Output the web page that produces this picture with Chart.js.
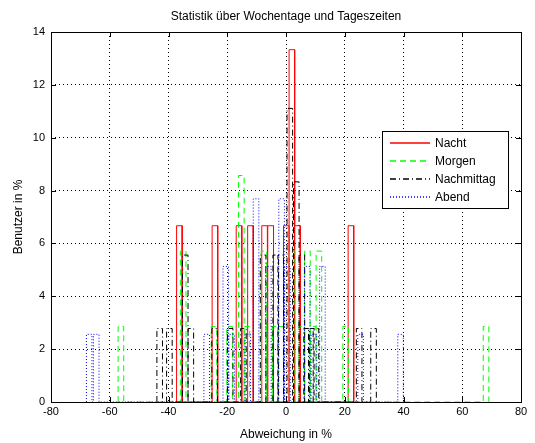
<!DOCTYPE html>
<html>
<head>
<meta charset="utf-8">
<script src="https://cdn.jsdelivr.net/npm/chart.js@4"></script>
<style>
  html, body { margin: 0; padding: 0; background: #fff; }
  #wrap { width: 535px; height: 443px; }
</style>
</head>
<body>
<div id="wrap"><canvas id="tageszeitChart" width="535" height="443"></canvas></div>
<script>
// Histogramm: Abweichung in % (Bin-Mitten) und Anteil der Benutzer in %
const seriesNames = ['Nacht', 'Morgen', 'Nachmittag', 'Abend'];

const nachtBins   = [-36.3, -24.2, -16.0, -12.1, -7.3, -5.2, 0.1, 2.0, 3.9, 22.1];
const nachtValues = [6.67, 6.67, 6.67, 6.67, 6.67, 6.67, 6.67, 13.33, 6.67, 6.67];

const morgenBins   = [-56.2, -35.0, -24.5, -19.2, -15.2, -13.3, -7.5, -5.6, -3.7, -1.8, 2.1, 5.4, 7.3, 9.2, 11.2, 20.3, 68.1];
const morgenValues = [2.86, 5.71, 2.86, 2.86, 8.57, 2.86, 5.71, 2.86, 2.86, 2.86, 5.71, 2.86, 5.71, 2.86, 5.71, 2.86, 2.86];

const nachmittagBins   = [-43.0, -39.7, -34.3, -32.4, -24.3, -19.0, -14.5, -7.8, -3.5, -1.8, 1.3, 3.5, 5.4, 7.0, 8.6, 10.2, 24.9, 29.8];
const nachmittagValues = [2.78, 2.78, 5.56, 2.78, 2.78, 2.78, 2.78, 5.56, 5.56, 5.56, 11.11, 8.33, 5.56, 2.78, 2.78, 2.78, 2.78, 2.78];

const abendBins   = [-67.0, -64.6, -27.0, -20.5, -18.5, -13.0, -10.2, -6.0, -1.5, 0.5, 7.2, 9.5, 12.4, 25.4, 39.0];
const abendValues = [2.56, 2.56, 2.56, 5.13, 2.56, 2.56, 7.69, 5.13, 7.69, 5.13, 5.13, 2.56, 5.13, 2.56, 2.56];

const binWidth = 1.9;

const seriesColors = ['#ff0000', '#00ff00', '#000000', '#0000ff'];
const seriesDashes = [[], [6, 4], [6, 3, 1, 3], [1, 2]];

// Umriss der Balken als Linienzug (wie stairs/hist in MATLAB)
function outline(centers, values) {
    const pts = [];
    const idx = centers.map((c, i) => i).sort((a, b) => centers[a] - centers[b]);
    idx.forEach(function(i) {
        const l = centers[i] - binWidth / 2;
        const r = centers[i] + binWidth / 2;
        pts.push({x: l, y: 0}, {x: l, y: values[i]}, {x: r, y: values[i]}, {x: r, y: 0});
    });
    return pts;
}

const FONT = 'Liberation Sans, Arial, Helvetica, sans-serif';

// Rahmen, nach innen zeigende Ticks, Titel und Legende
const matlabAxes = {
    id: 'matlabAxes',
    afterDraw(chart) {
        const ctx = chart.ctx;
        const a = chart.chartArea;
        const xs = chart.scales.x, ys = chart.scales.y;
        ctx.save();
        ctx.strokeStyle = '#000';
        ctx.lineWidth = 1;
        ctx.setLineDash([]);
        ctx.strokeRect(Math.round(a.left) + 0.5, Math.round(a.top) + 0.5,
            Math.round(a.right - a.left), Math.round(a.bottom - a.top));
        ctx.beginPath();
        xs.ticks.forEach(function(t) {
            const px = Math.round(xs.getPixelForValue(t.value)) + 0.5;
            ctx.moveTo(px, a.bottom); ctx.lineTo(px, a.bottom - 5);
            ctx.moveTo(px, a.top); ctx.lineTo(px, a.top + 5);
        });
        ys.ticks.forEach(function(t) {
            const py = Math.round(ys.getPixelForValue(t.value)) + 0.5;
            ctx.moveTo(a.left, py); ctx.lineTo(a.left + 5, py);
            ctx.moveTo(a.right, py); ctx.lineTo(a.right - 5, py);
        });
        ctx.stroke();

        // Titel
        ctx.fillStyle = '#000';
        ctx.font = '12px ' + FONT;
        ctx.textAlign = 'center';
        ctx.textBaseline = 'middle';
        ctx.fillText('Statistik über Wochentage und Tageszeiten', (a.left + a.right) / 2, 17);

        // Legende
        const bx = 382.5, by = 131.5, bw = 126, bh = 77;
        ctx.fillStyle = '#fff';
        ctx.fillRect(bx, by, bw, bh);
        ctx.strokeStyle = '#000';
        ctx.strokeRect(bx, by, bw, bh);
        ctx.textAlign = 'left';
        seriesNames.forEach(function(name, i) {
            const y = 143 + i * 18;
            ctx.strokeStyle = seriesColors[i];
            ctx.lineWidth = 1.3;
            ctx.setLineDash(seriesDashes[i]);
            ctx.beginPath();
            ctx.moveTo(390, y); ctx.lineTo(430, y);
            ctx.stroke();
            ctx.setLineDash([]);
            ctx.fillStyle = '#000';
            ctx.fillText(name, 435, y + 0.5);
        });
        ctx.restore();
    }
};

document.addEventListener('DOMContentLoaded', function() {
    const ctx = document.getElementById('tageszeitChart');
    const binsList = [nachtBins, morgenBins, nachmittagBins, abendBins];
    const valuesList = [nachtValues, morgenValues, nachmittagValues, abendValues];

    new Chart(ctx, {
        type: 'line',
        data: {
            datasets: seriesNames.map(function(name, i) {
                return {
                    label: name,
                    data: outline(binsList[i], valuesList[i]),
                    borderColor: seriesColors[i],
                    borderDash: seriesDashes[i],
                    borderWidth: 1,
                    pointRadius: 0,
                    tension: 0,
                    fill: false,
                    order: 3 - i
                };
            })
        },
        options: {
            responsive: false,
            animation: false,
            layout: { padding: { top: 32, right: 14, left: 0, bottom: 0 } },
            plugins: {
                legend: { display: false },
                tooltip: { enabled: false },
                title: { display: false }
            },
            scales: {
                x: {
                    type: 'linear',
                    min: -80, max: 80,
                    afterFit: function(s) { s.height = 41; },
                    grid: { color: '#000', drawTicks: false, lineWidth: 1 },
                    border: { display: false, dash: [1, 3] },
                    ticks: { stepSize: 20, color: '#000', padding: 3, maxRotation: 0,
                             font: { family: FONT, size: 11 } },
                    title: { display: true, text: 'Abweichung in %', color: '#000',
                             padding: { top: 0, bottom: 1 }, font: { family: FONT, size: 12 } }
                },
                y: {
                    min: 0, max: 14,
                    afterFit: function(s) { s.width = 51; },
                    grid: { color: '#000', drawTicks: false, lineWidth: 1 },
                    border: { display: false, dash: [1, 3] },
                    ticks: { stepSize: 2, color: '#000', padding: 6,
                             font: { family: FONT, size: 11 } },
                    title: { display: true, text: 'Benutzer in %', color: '#000',
                             padding: { top: 11, bottom: 0 }, font: { family: FONT, size: 12 } }
                }
            }
        },
        plugins: [matlabAxes]
    });
});
</script>
</body>
</html>
